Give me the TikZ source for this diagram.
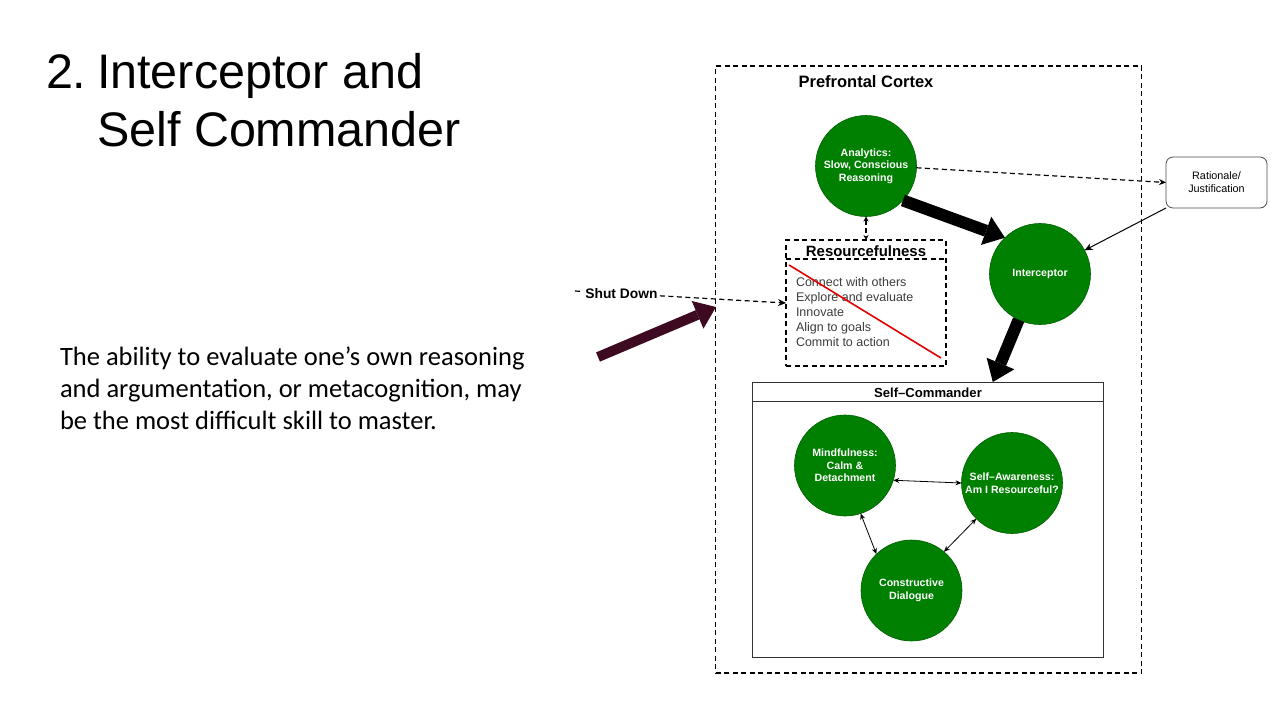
\documentclass[tikz,border=0pt]{standalone}
\usepackage{fontspec}
\setmainfont{Liberation Sans}
\newfontfamily\calib{Carlito}
\usetikzlibrary{arrows.meta,calc}
\definecolor{nodegreen}{RGB}{0,128,0}
\definecolor{darkmaroon}{RGB}{62,10,34}
\definecolor{itemgray}{RGB}{60,60,60}
\begin{document}
\begin{tikzpicture}[x=1pt,y=-1pt,
  every node/.style={inner sep=0pt, outer sep=0pt},
  gcirc/.style={circle, fill=nodegreen, draw=nodegreen!75!black, line width=0.6pt,
    minimum size=101pt, text=white, align=center,
    font=\fontsize{10.6}{12.6}\selectfont\bfseries},
  dsh/.style={dash pattern=on 5pt off 3.5pt, line width=1.4pt},
  dbox/.style={draw, dsh, rectangle},
  sbox/.style={draw=black!80, line width=0.9pt, rectangle},
  thinarr/.style={line width=0.8pt, {Stealth[length=6pt,width=5pt]}-{Stealth[length=6pt,width=5pt]}},
  bigarr/.style={line width=12pt, -{Triangle[length=20pt,width=30pt,line width=0pt]}},
  titlefont/.style={font=\fontsize{48.5}{58}\selectfont},
  bodyfont/.style={font=\calib\fontsize{26.5}{32}\selectfont}
]
\useasboundingbox (0,0) rectangle (1280,720);

% title
\node[titlefont, anchor=base west] (t0) at (46,88) {2.};
\node[titlefont, anchor=base west] (t1) at (97,88) {Interceptor and};
\node[titlefont, anchor=base west] (t2) at (97,146) {Self Commander};

% body text
\node[bodyfont, anchor=base west] (b1) at (60,365) {The ability to evaluate one’s own reasoning};
\node[bodyfont, anchor=base west] (b2) at (60,397) {and argumentation, or metacognition, may};
\node[bodyfont, anchor=base west] (b3) at (60,429) {be the most difficult skill to master.};

% prefrontal cortex box
\node[dbox, minimum width=426pt, minimum height=607pt] (pfc) at (928.5,369.5) {};
\node[font=\fontsize{16.5}{19}\selectfont\bfseries] (pfcl) at (866,82) {Prefrontal Cortex};

% green circles
\node[gcirc] (ana) at (866,166) {Analytics:\\Slow, Conscious\\Reasoning};
\node[gcirc] (int) at (1040,274) {Interceptor};

% rationale
\node[draw=black!70, line width=0.8pt, rounded corners=7pt, minimum width=101pt, minimum height=51pt,
  align=center, font=\fontsize{10.8}{13}\selectfont] (rat) at (1216.5,182.5) {Rationale/\\Justification};

% resourcefulness
\node[dbox, minimum width=160pt, minimum height=126pt] (res) at (866,303) {};
\draw[dsh] ($(res.north west)+(0,19)$) -- ($(res.north east)+(0,19)$);
\node[font=\fontsize{14.9}{17}\selectfont\bfseries] (resl) at (866,251.5) {Resourcefulness};
\node[anchor=west, align=left, text=itemgray, font=\fontsize{12.5}{15}\selectfont] (items) at (796,312)
  {Connect with others\\Explore and evaluate\\Innovate\\Align to goals\\Commit to action};
\draw[red!90!black, line width=1.6pt] (789,265) -- (941,358);

% self-commander
\node[sbox, minimum width=351pt, minimum height=275pt] (sc) at (927.5,519.5) {};
\draw[black!80, line width=0.9pt] ($(sc.north west)+(0,19)$) -- ($(sc.north east)+(0,19)$);
\node[font=\fontsize{13.1}{15}\selectfont\bfseries] (scl) at (928,392.5) {Self–Commander};
\node[gcirc] (mind) at (845,465.5) {Mindfulness:\\Calm \&\\Detachment};
\node[gcirc] (saw) at (1012,483) {Self–Awareness:\\Am I Resourceful?};
\node[gcirc] (con) at (911.5,590.5) {Constructive\\Dialogue};

% connectors
\draw[dsh, line width=1.2pt, -{Stealth[length=7pt,width=6pt]}] (ana.-2) -- (rat.west);
\draw[line width=1pt, -{Stealth[length=8pt,width=7pt]}] (rat.south west) -- (int.28);
\draw[dsh, line width=1.2pt, {Stealth[length=5pt,width=5pt]}-{Stealth[length=5pt,width=5pt]}] (ana.south) -- (res.north);
\draw[bigarr] (ana.-43) -- (int.134);
\coordinate (scin) at ($(sc.north west)!0.686!(sc.north east)$);
\draw[bigarr] (int.-115) -- (scin);
\draw[thinarr] (mind.-17) -- (saw.west);
\draw[thinarr] (mind.-72) -- (con.134);
\draw[thinarr] (saw.-135) -- (con.50);

% shut down
\coordinate (sdstart) at (575,291);
\draw[dsh, line width=1.2pt, -{Stealth[length=8pt,width=7pt]}] (sdstart) -- (res.west)
  node[pos=0.22, fill=white, inner xsep=2pt, inner ysep=1pt, font=\fontsize{13.8}{16}\selectfont\bfseries] (sdl) {Shut Down};

% maroon arrow
\coordinate (mtail) at (598,357);
\coordinate (mtip) at (716,307);
\draw[line width=10pt, darkmaroon, -{Triangle[length=20pt,width=30pt,line width=0pt]}] (mtail) -- (mtip);
\end{tikzpicture}
\end{document}
